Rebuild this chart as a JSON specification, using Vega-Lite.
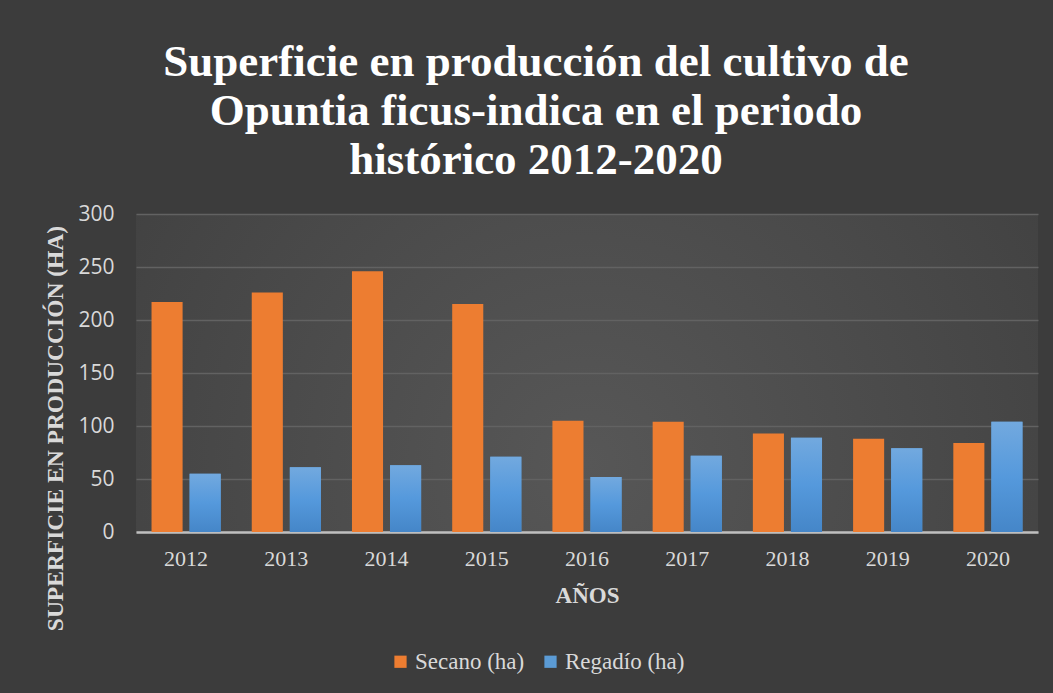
{
  "$schema": "https://vega.github.io/schema/vega-lite/v6.json",
  "width": 902,
  "height": 318,
  "autosize": {"type": "none"},
  "padding": {"left": 136, "top": 214, "right": 15, "bottom": 161},
  "background": "#3c3c3c",
  "title": {
    "text": ["Superficie en producción del cultivo de", "Opuntia ficus-indica en el periodo", "histórico 2012-2020"],
    "font": "Liberation Serif",
    "fontSize": 45,
    "fontWeight": "bold",
    "color": "#ffffff",
    "lineHeight": 49,
    "anchor": "middle",
    "dx": -51,
    "offset": 20
  },
  "config": {
    "view": {
      "stroke": null,
      "fill": {
        "gradient": "radial",
        "x1": 0.5, "y1": 0.6, "r1": 0,
        "x2": 0.5, "y2": 0.6, "r2": 0.75,
        "stops": [
          {"offset": 0, "color": "#575757"},
          {"offset": 1, "color": "#3c3c3c"}
        ]
      }
    }
  },
  "data": {
    "values": [
      {"year": "2012", "serie": "Secano (ha)", "value": 217},
      {"year": "2012", "serie": "Regadío (ha)", "value": 55},
      {"year": "2013", "serie": "Secano (ha)", "value": 226},
      {"year": "2013", "serie": "Regadío (ha)", "value": 61},
      {"year": "2014", "serie": "Secano (ha)", "value": 246},
      {"year": "2014", "serie": "Regadío (ha)", "value": 63},
      {"year": "2015", "serie": "Secano (ha)", "value": 215},
      {"year": "2015", "serie": "Regadío (ha)", "value": 71},
      {"year": "2016", "serie": "Secano (ha)", "value": 105},
      {"year": "2016", "serie": "Regadío (ha)", "value": 52},
      {"year": "2017", "serie": "Secano (ha)", "value": 104},
      {"year": "2017", "serie": "Regadío (ha)", "value": 72},
      {"year": "2018", "serie": "Secano (ha)", "value": 93},
      {"year": "2018", "serie": "Regadío (ha)", "value": 89},
      {"year": "2019", "serie": "Secano (ha)", "value": 88},
      {"year": "2019", "serie": "Regadío (ha)", "value": 79},
      {"year": "2020", "serie": "Secano (ha)", "value": 84},
      {"year": "2020", "serie": "Regadío (ha)", "value": 104}
    ]
  },
  "encoding": {
    "x": {
      "field": "year",
      "type": "nominal",
      "scale": {"paddingInner": 0.31, "paddingOuter": 0.155},
      "axis": {
        "title": "AÑOS",
        "titleFont": "Liberation Serif",
        "titleFontSize": 23,
        "titleFontWeight": "bold",
        "titleColor": "#d9d9d9",
        "titlePadding": 15,
        "labelFont": "Liberation Serif",
        "labelFontSize": 22,
        "labelColor": "#d9d9d9",
        "labelAngle": 0,
        "labelPadding": 16,
        "ticks": false,
        "domainColor": "#bfbfbf",
        "domainWidth": 2.5,
        "grid": false
      }
    },
    "xOffset": {
      "field": "serie",
      "type": "nominal",
      "scale": {"domain": ["Secano (ha)", "Regadío (ha)"], "paddingInner": 0.184}
    },
    "y": {
      "field": "value",
      "type": "quantitative",
      "scale": {"domain": [0, 300]},
      "axis": {
        "title": "SUPERFICIE EN PRODUCCIÓN (HA)",
        "titleFont": "Liberation Serif",
        "titleFontSize": 23.5,
        "titleFontWeight": "bold",
        "titleColor": "#d9d9d9",
        "titleX": -81,
        "titleY": 214,
        "titleAlign": "center",
        "titleBaseline": "middle",
        "titleAngle": 270,
        "values": [0, 50, 100, 150, 200, 250, 300],
        "labelFont": "Open Sans",
        "labelFontSize": 21,
        "labelColor": "#d9d9d9",
        "labelPadding": 22,
        "ticks": false,
        "domain": false,
        "gridColor": "#626262",
        "gridWidth": 1.3
      }
    }
  },
  "layer": [
    {
      "mark": {"type": "bar"},
      "encoding": {
        "color": {
          "field": "serie",
          "type": "nominal",
          "scale": {"domain": ["Secano (ha)", "Regadío (ha)"], "range": ["#ed7d31", "#5b9bd5"]},
          "legend": {
            "title": null,
            "orient": "none",
            "direction": "horizontal",
            "legendX": 253,
            "legendY": 436,
            "symbolType": "square",
            "symbolSize": 150,
            "symbolStrokeWidth": 0,
            "labelFont": "Liberation Serif",
            "labelFontSize": 23,
            "labelColor": "#d9d9d9",
            "labelOffset": 3,
            "labelLimit": 300,
            "columnPadding": 14
          }
        }
      }
    },
    {
      "transform": [{"filter": "datum.serie === 'Regadío (ha)'"}],
      "mark": {
        "type": "bar",
        "fill": {
          "gradient": "linear",
          "x1": 0, "y1": 0, "x2": 0, "y2": 1,
          "stops": [
            {"offset": 0, "color": "#72a9df"},
            {"offset": 0.5, "color": "#5599dc"},
            {"offset": 1, "color": "#4586c8"}
          ]
        }
      }
    }
  ]
}
